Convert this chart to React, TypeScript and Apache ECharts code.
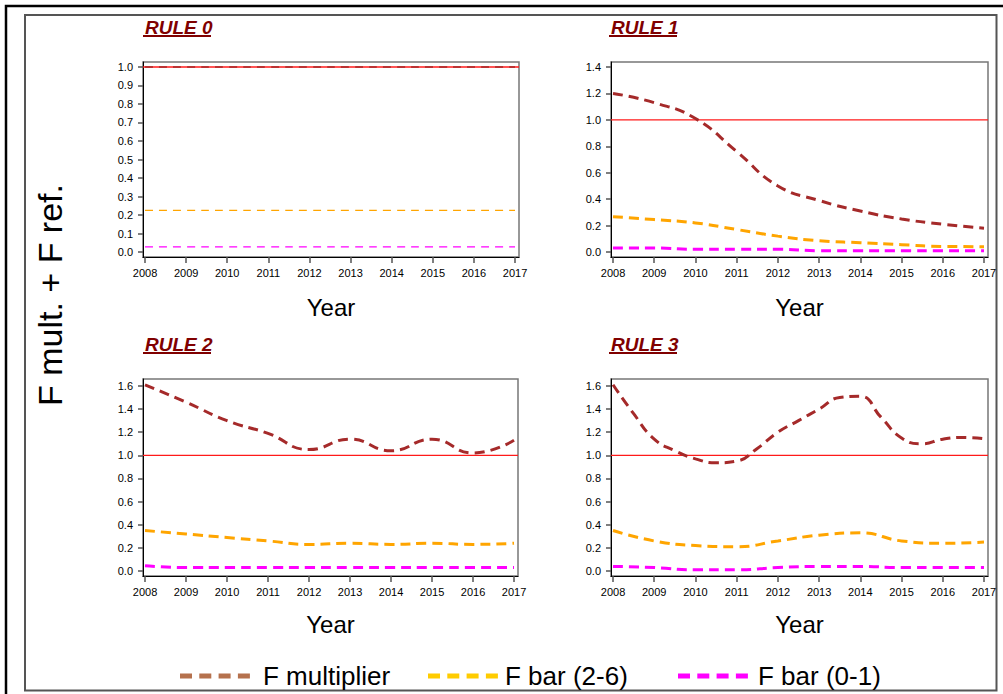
import React, { useEffect, useRef } from "react";
import * as echarts from "echarts";

// ---------- data ----------
const years = [2008, 2009, 2010, 2011, 2012, 2013, 2014, 2015, 2016, 2017];
const halfYears = [
  2008, 2008.5, 2009, 2009.5, 2010, 2010.5, 2011, 2011.5, 2012, 2012.5,
  2013, 2013.5, 2014, 2014.5, 2015, 2015.5, 2016, 2016.5, 2017,
];
const panelTitles = ["RULE 0", "RULE 1", "RULE 2", "RULE 3"];
const seriesNames = ["F multiplier", "F bar (2-6)", "F bar (0-1)"];
const yAxisTitle = "F mult. + F ref.";
const xAxisTitle = "Year";
const refValue = 1.0;

const rule0FMult = [1.0, 1.0, 1.0, 1.0, 1.0, 1.0, 1.0, 1.0, 1.0, 1.0];
const rule0FBar26 = [0.225, 0.225, 0.225, 0.225, 0.225, 0.225, 0.225, 0.225, 0.225, 0.225];
const rule0FBar01 = [0.028, 0.028, 0.028, 0.028, 0.028, 0.028, 0.028, 0.028, 0.028, 0.028];

const rule1FMult = [1.2, 1.13, 1.01, 0.76, 0.5, 0.39, 0.31, 0.25, 0.21, 0.18];
const rule1FBar26 = [0.267, 0.245, 0.22, 0.17, 0.12, 0.085, 0.07, 0.055, 0.042, 0.04];
const rule1FBar01 = [0.03, 0.03, 0.02, 0.02, 0.02, 0.01, 0.01, 0.01, 0.01, 0.01];

const rule2FMult = [1.61, 1.46, 1.3, 1.19, 1.05, 1.14, 1.04, 1.14, 1.02, 1.13];
const rule2FBar26 = [0.35, 0.32, 0.29, 0.26, 0.23, 0.24, 0.23, 0.24, 0.23, 0.24];
const rule2FBar01 = [0.045, 0.03, 0.03, 0.03, 0.03, 0.03, 0.03, 0.03, 0.03, 0.03];

// rule 3 F multiplier read at half-year steps (x = halfYears)
const rule3FMult = [
  1.61, 1.36, 1.14, 1.04, 0.97, 0.935, 0.95, 1.06, 1.2, 1.3,
  1.4, 1.5, 1.51, 1.33, 1.15, 1.1, 1.14, 1.155, 1.145,
];
const rule3FBar26 = [0.35, 0.26, 0.22, 0.21, 0.26, 0.31, 0.33, 0.26, 0.24, 0.25];
const rule3FBar01 = [0.04, 0.03, 0.01, 0.01, 0.03, 0.04, 0.04, 0.03, 0.03, 0.03];

const yTicks0 = [0, 0.1, 0.2, 0.3, 0.4, 0.5, 0.6, 0.7, 0.8, 0.9, 1.0];
const yTicks1 = [0, 0.2, 0.4, 0.6, 0.8, 1.0, 1.2, 1.4];
const yTicks23 = [0, 0.2, 0.4, 0.6, 0.8, 1.0, 1.2, 1.4, 1.6];

const panelData = [
  [rule0FMult, rule0FBar26, rule0FBar01],
  [rule1FMult, rule1FBar26, rule1FBar01],
  [rule2FMult, rule2FBar26, rule2FBar01],
  [rule3FMult, rule3FBar26, rule3FBar01],
];
const panelX = [
  [years, years, years],
  [years, years, years],
  [years, years, years],
  [halfYears, years, years],
];
const panelTicks = [yTicks0, yTicks1, yTicks23, yTicks23];

// ---------- layout / style ----------
const FONT = '"Liberation Sans", Arial, sans-serif';
const grids = [
  { left: 143, top: 62, width: 376, height: 195 },
  { left: 611, top: 62, width: 377, height: 195 },
  { left: 143, top: 379, width: 375, height: 197 },
  { left: 611, top: 379, width: 377, height: 197 },
];
const yRanges = [
  [-0.027, 1.027],
  [-0.038, 1.438],
  [-0.043, 1.66],
  [-0.043, 1.66],
];
const xRange = [2007.951, 2017.097];
const lineColors = ["#A52A2A", "#FFA500", "#FF00FF"];
const legendColors = ["#B5714D", "#FFCC00", "#FF00FF"];
const titlePos = [
  [145, 27],
  [611, 27],
  [145, 344],
  [611, 344],
];

export default function App() {
  const ref = useRef<HTMLDivElement>(null);
  useEffect(() => {
    document.body.style.margin = "0";
    const chart = echarts.init(ref.current!, undefined, { renderer: "svg" });

    const xAxes = grids.map((_, i) => ({
      type: "value",
      gridIndex: i,
      min: xRange[0],
      max: xRange[1],
      name: xAxisTitle,
      nameLocation: "middle",
      nameGap: i < 2 ? 38 : 36,
      nameMoveOverlap: false,
      nameTextStyle: { fontFamily: FONT, fontSize: 24, color: "#000" },
      axisLine: { show: true, onZero: false, lineStyle: { color: "#000", width: 1 } },
      axisTick: { show: true, length: 6, customValues: years, lineStyle: { color: "#555", width: 1.5 } },
      axisLabel: {
        show: true,
        customValues: years,
        margin: 10,
        fontFamily: FONT,
        fontSize: 11,
        color: "#000",
        formatter: (v: number) => String(Math.round(v)),
      },
      splitLine: { show: false },
    }));

    const yAxes = grids.map((_, i) => ({
      type: "value",
      gridIndex: i,
      min: yRanges[i][0],
      max: yRanges[i][1],
      axisLine: { show: true, lineStyle: { color: "#000", width: 1 } },
      axisTick: { show: true, length: 5, customValues: panelTicks[i], lineStyle: { color: "#555", width: 1.5 } },
      axisLabel: {
        show: true,
        customValues: panelTicks[i],
        margin: 10,
        fontFamily: FONT,
        fontSize: 11,
        color: "#000",
        formatter: (v: number) => v.toFixed(1),
      },
      splitLine: { show: false },
    }));

    const series: any[] = [];
    panelData.forEach((arrs, i) => {
      series.push({
        type: "line",
        name: "ref",
        xAxisIndex: i,
        yAxisIndex: i,
        data: [
          [xRange[0], refValue],
          [xRange[1], refValue],
        ],
        showSymbol: false,
        symbol: "none",
        silent: true,
        z: 1,
        lineStyle: { color: "#FF1A1A", width: 1.3, type: "solid" },
      });
      arrs.forEach((vals, j) => {
        const xs = panelX[i][j];
        series.push({
          type: "line",
          name: seriesNames[j],
          xAxisIndex: i,
          yAxisIndex: i,
          data: xs.map((y, k) => [y, vals[k]]),
          showSymbol: false,
          symbol: "none",
          smooth: 0.5,
          z: 3,
          lineStyle: {
            color: lineColors[j],
            width: i === 0 ? 1.3 : 3,
            type: i === 0 ? [8, 6] : [10, 6],
          },
        });
      });
    });

    const graphics: any[] = [
      {
        type: "polyline",
        shape: { points: [[6, 694], [6, 6], [1003, 6]] },
        style: { stroke: "#000", lineWidth: 2.5, fill: "none" },
        silent: true,
      },
      {
        type: "rect",
        shape: { x: 25, y: 15, width: 971.5, height: 675.5 },
        style: { stroke: "#555", lineWidth: 2, fill: "none" },
        silent: true,
      },
      {
        type: "text",
        x: 50,
        y: 295,
        rotation: Math.PI / 2,
        style: {
          text: yAxisTitle,
          font: `34px ${FONT}`,
          fill: "#000",
          textAlign: "center",
          textVerticalAlign: "middle",
        },
        silent: true,
      },
    ];

    panelTitles.forEach((t, i) => {
      graphics.push({
        type: "text",
        x: titlePos[i][0],
        y: titlePos[i][1],
        style: {
          text: t,
          font: `italic bold 19px ${FONT}`,
          fill: "#800000",
          textAlign: "left",
          textVerticalAlign: "middle",
        },
        silent: true,
      });
      graphics.push({
        type: "line",
        shape: { x1: titlePos[i][0] - 2, y1: titlePos[i][1] + 9, x2: titlePos[i][0] + 66, y2: titlePos[i][1] + 9 },
        style: { stroke: "#800000", lineWidth: 2 },
        silent: true,
      });
    });

    const legendSampleX = [180, 428, 678];
    const legendTextX = [263, 505, 758];
    const legendY = 676;
    seriesNames.forEach((n, j) => {
      graphics.push({
        type: "line",
        shape: { x1: legendSampleX[j], y1: legendY, x2: legendSampleX[j] + 70, y2: legendY },
        style: { stroke: legendColors[j], lineWidth: 5, lineDash: [12, 7.3] },
        silent: true,
      });
      graphics.push({
        type: "text",
        x: legendTextX[j],
        y: legendY,
        style: {
          text: n,
          font: `26px ${FONT}`,
          fill: "#000",
          textAlign: "left",
          textVerticalAlign: "middle",
        },
        silent: true,
      });
    });

    chart.setOption({
      animation: false,
      backgroundColor: "#fff",
      grid: grids.map((g) => ({
        ...g,
        show: true,
        borderColor: "#777",
        borderWidth: 1.5,
        backgroundColor: "transparent",
        containLabel: false,
      })),
      xAxis: xAxes,
      yAxis: yAxes,
      series,
      graphic: graphics,
    });
    return () => chart.dispose();
  }, []);
  return (
    <div
      ref={ref}
      style={{ position: "fixed", left: 0, top: 0, width: 1003, height: 694 }}
    />
  );
}
